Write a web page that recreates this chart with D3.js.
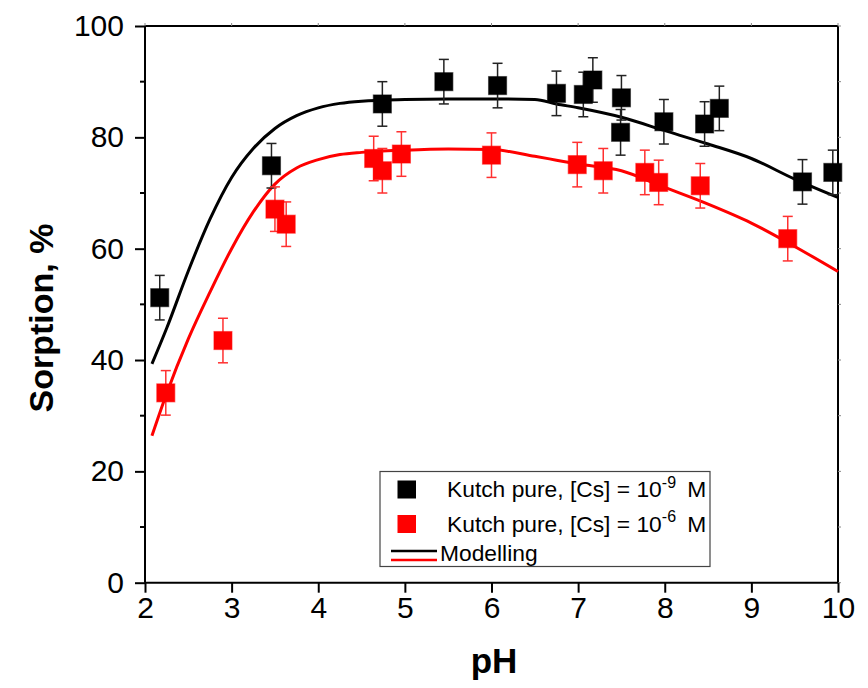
<!DOCTYPE html>
<html>
<head>
<meta charset="utf-8">
<script src="https://cdn.jsdelivr.net/npm/d3@7"></script>
<style>
  html, body { margin: 0; padding: 0; background: #fff; }
  svg { display: block; font-family: Arial, "Liberation Sans", Helvetica, sans-serif; }
</style>
</head>
<body>
<svg id="chart" width="868" height="688"></svg>
<script>
// ---- data ----
const xTicks = [2, 3, 4, 5, 6, 7, 8, 9, 10];
const yTicks = [0, 20, 40, 60, 80, 100];
const yMinorTicks = [10, 30, 50, 70, 90];

// Kutch pure, [Cs] = 1e-9 M
const blackPH   = [2.17, 3.46, 4.74, 5.45, 6.07, 6.75, 7.06, 7.17, 7.50, 7.49, 7.99, 8.46, 8.63, 9.59, 9.94];
const blackSorp = [51.2, 74.9, 86.0, 90.0, 89.3, 87.9, 87.7, 90.3, 87.1, 80.9, 82.8, 82.4, 85.2, 72.0, 73.7];
const blackErr  = [4, 4, 4, 4, 4, 4, 4, 4, 4, 4.1, 4, 4, 4, 4, 4];

// Kutch pure, [Cs] = 1e-6 M
const redPH   = [2.24, 2.90, 3.50, 3.63, 4.64, 4.74, 4.96, 6.00, 6.99, 7.29, 7.77, 7.93, 8.41, 9.42];
const redSorp = [34.1, 43.5, 67.1, 64.4, 76.2, 74.0, 77.0, 76.8, 75.1, 74.0, 73.7, 71.9, 71.3, 61.8];
const redErr  = [4, 4, 4, 4, 4, 4, 4, 4, 4, 4, 4, 4, 4, 4];

// Modelling curves
const modelPH    = [2.08, 2.25, 2.5, 2.75, 3.0, 3.25, 3.5, 3.75, 4.0, 4.25, 4.5, 5.0, 5.5, 6.0, 6.5, 6.75, 7.0, 7.5, 8.0, 8.5, 9.0, 9.5, 10.0];
const modelBlack = [39.3, 45.7, 56.0, 65.3, 72.8, 78.0, 81.6, 83.9, 85.3, 86.1, 86.5, 86.8, 86.9, 86.9, 86.8, 86.0, 85.3, 83.6, 81.2, 78.8, 76.2, 72.5, 69.2];
const modelRed   = [26.4, 34.0, 43.8, 52.2, 60.0, 66.6, 71.6, 74.5, 76.0, 76.9, 77.3, 77.7, 77.9, 77.8, 76.6, 75.9, 75.2, 74.0, 71.0, 68.0, 64.6, 60.4, 55.9];

// ---- drawing ----
const svg = d3.select("#chart");
const x = d3.scaleLinear().domain([2, 10]).range([145, 838]);
const y = d3.scaleLinear().domain([0, 100]).range([582.7, 26]);

// frame: top and right
svg.append("line").attr("x1", x(2)).attr("x2", x(10)).attr("y1", y(100)).attr("y2", y(100))
  .attr("stroke", "#000").attr("stroke-width", 2);
svg.append("line").attr("x1", x(10)).attr("x2", x(10)).attr("y1", y(100)).attr("y2", y(0))
  .attr("stroke", "#000").attr("stroke-width", 2);
// small ticks on top/right
svg.append("g").selectAll("line").data(xTicks).join("line")
  .attr("x1", d => x(d)).attr("x2", d => x(d)).attr("y1", y(100)).attr("y2", y(100) - 3)
  .attr("stroke", "#888").attr("stroke-width", 1);
svg.append("g").selectAll("line").data(yTicks.concat(yMinorTicks)).join("line")
  .attr("x1", x(10)).attr("x2", x(10) + 3).attr("y1", d => y(d)).attr("y2", d => y(d))
  .attr("stroke", "#888").attr("stroke-width", 1);

// bottom axis
const xAxis = d3.axisBottom(x).tickValues(xTicks).tickSize(10).tickPadding(4).tickFormat(d3.format("d"));
const gx = svg.append("g").attr("transform", `translate(0,${y(0)})`).call(xAxis);
gx.select(".domain").attr("stroke-width", 2).attr("d", `M${x(2)},0H${x(10)}`);
gx.selectAll(".tick line").attr("stroke-width", 2);
gx.selectAll(".tick text").attr("font-size", 30).attr("font-family", "Arial, 'Liberation Sans', sans-serif").attr("fill", "#000");

// left axis
const yAxis = d3.axisLeft(y).tickValues(yTicks).tickSize(10).tickPadding(11).tickFormat(d3.format("d"));
const gy = svg.append("g").attr("transform", `translate(${x(2)},0)`).call(yAxis);
gy.select(".domain").attr("stroke-width", 2).attr("d", `M0,${y(0)}V${y(100)}`);
gy.selectAll(".tick line").attr("stroke-width", 2);
gy.selectAll(".tick text").attr("font-size", 30).attr("font-family", "Arial, 'Liberation Sans', sans-serif").attr("fill", "#000");
// minor y ticks
gy.append("g").selectAll("line").data(yMinorTicks).join("line")
  .attr("x1", 0).attr("x2", -5).attr("y1", d => y(d)).attr("y2", d => y(d))
  .attr("stroke", "#000").attr("stroke-width", 2);

// axis titles
svg.append("text").attr("x", 494).attr("y", 673).attr("text-anchor", "middle")
  .attr("font-size", 35).attr("font-weight", "bold").text("pH");
svg.append("text").attr("transform", "translate(53,318) rotate(-90)").attr("text-anchor", "middle")
  .attr("font-size", 34).attr("font-weight", "bold").text("Sorption, %");

// model lines
const line = d3.line().curve(d3.curveMonotoneX);
function modelLine(vals, color) {
  svg.append("path")
    .attr("d", line(modelPH.map((p, i) => [x(p), y(vals[i])])))
    .attr("fill", "none").attr("stroke", color).attr("stroke-width", 3);
}
modelLine(modelBlack, "#000");
modelLine(modelRed, "#ff0000");

// error bars + squares
function series(px, py, err, color, barColor) {
  const g = svg.append("g");
  const data = px.map((p, i) => ({ p, v: py[i], e: err[i] }));
  const eb = g.selectAll("g.eb").data(data).join("g");
  eb.append("line").attr("x1", d => x(d.p)).attr("x2", d => x(d.p))
    .attr("y1", d => y(d.v + d.e)).attr("y2", d => y(d.v - d.e))
    .attr("stroke", barColor).attr("stroke-width", 1.5);
  eb.append("line").attr("x1", d => x(d.p) - 5).attr("x2", d => x(d.p) + 5)
    .attr("y1", d => y(d.v + d.e)).attr("y2", d => y(d.v + d.e))
    .attr("stroke", barColor).attr("stroke-width", 1.5);
  eb.append("line").attr("x1", d => x(d.p) - 5).attr("x2", d => x(d.p) + 5)
    .attr("y1", d => y(d.v - d.e)).attr("y2", d => y(d.v - d.e))
    .attr("stroke", barColor).attr("stroke-width", 1.5);
  const s = 18;
  g.selectAll("rect").data(data).join("rect")
    .attr("x", d => x(d.p) - s / 2).attr("y", d => y(d.v) - s / 2)
    .attr("width", s).attr("height", s)
    .attr("fill", color).attr("stroke", color).attr("stroke-opacity", 0.5).attr("stroke-width", 1.2);
}
series(blackPH, blackSorp, blackErr, "#000", "#222");
series(redPH, redSorp, redErr, "#ff0000", "#ff3030");

// legend
const lg = svg.append("g");
lg.append("rect").attr("x", 380).attr("y", 471.5).attr("width", 330).attr("height", 95)
  .attr("fill", "#fff").attr("stroke", "#444").attr("stroke-width", 1.2);
const legendItems = [
  { color: "#000", sup: "-9", cy: 489.5 },
  { color: "#ff0000", sup: "-6", cy: 524 }
];
legendItems.forEach(it => {
  lg.append("rect").attr("x", 397.5).attr("y", it.cy - 9).attr("width", 18.5).attr("height", 18)
    .attr("fill", it.color);
  const t = lg.append("text").attr("x", 447).attr("y", it.cy + 7.5).attr("font-size", 22.8).attr("fill", "#000");
  t.append("tspan").text("Kutch pure, [Cs] = 10");
  t.append("tspan").attr("dy", -9.5).attr("font-size", 16).text(it.sup);
  t.append("tspan").attr("dy", 9.5).attr("dx", 5).text(" M");
});
lg.append("line").attr("x1", 391).attr("x2", 437).attr("y1", 551).attr("y2", 551)
  .attr("stroke", "#000").attr("stroke-width", 2.5);
lg.append("line").attr("x1", 391).attr("x2", 437).attr("y1", 560).attr("y2", 560)
  .attr("stroke", "#ff0000").attr("stroke-width", 2.5);
lg.append("text").attr("x", 440).attr("y", 560.5).attr("font-size", 22.8).attr("fill", "#000").text("Modelling");
</script>
</body>
</html>
